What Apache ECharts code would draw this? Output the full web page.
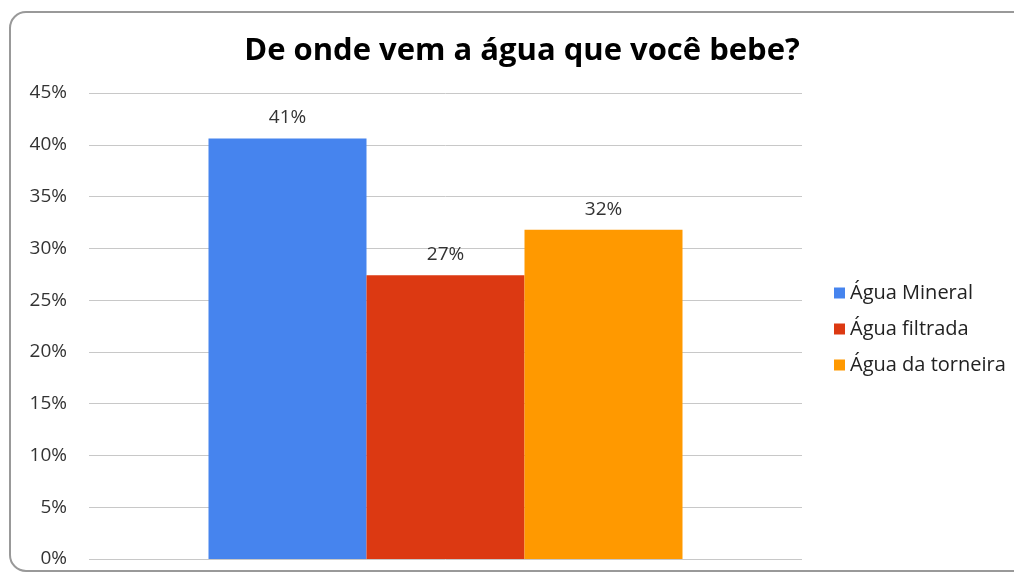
<!DOCTYPE html>
<html>
<head>
<meta charset="utf-8">
<script src="https://cdn.jsdelivr.net/npm/echarts@6/dist/echarts.min.js"></script>
<style>
  html, body { margin: 0; padding: 0; background: #fff; }
  #chart { width: 1014px; height: 573px; }
</style>
</head>
<body>
<div id="chart"></div>
<script>
var categories = ['Origem'];
var seriesNames = ['Água Mineral', 'Água filtrada', 'Água da torneira'];
var values = [40.6, 27.4, 31.8];
var colors = ['#4684ee', '#dc3912', '#ff9900'];
var yTicks = [0, 5, 10, 15, 20, 25, 30, 35, 40, 45];

var chart = echarts.init(document.getElementById('chart'));

var series = seriesNames.map(function (name, i) {
    return {
        name: name,
        type: 'bar',
        data: [values[i]],
        barWidth: 158,
        barGap: '0%',
        itemStyle: { color: colors[i] },
        label: {
            show: true,
            position: 'top',
            distance: 11,
            fontSize: 19,
            fontFamily: 'Open Sans',
            color: '#333',
            formatter: function (p) { return Math.round(p.value) + '%'; }
        }
    };
});

var option = {
    animation: false,
    backgroundColor: '#fff',
    title: {
        text: 'De onde vem a água que você bebe?',
        left: 517,
        textAlign: 'center',
        top: 31,
        textStyle: { fontSize: 31, fontWeight: 'bold', fontFamily: 'Open Sans', color: '#000' }
    },
    legend: {
        orient: 'vertical',
        left: 829,
        top: 278,
        itemWidth: 11,
        itemHeight: 11,
        itemGap: 16,
        icon: 'rect',
        textStyle: { fontSize: 20, fontFamily: 'Open Sans', color: '#222' },
        data: seriesNames
    },
    grid: { left: 89, right: 212, top: 93, bottom: 14 },
    xAxis: {
        type: 'category',
        data: categories,
        axisLine: { show: false },
        axisTick: { show: false },
        axisLabel: { show: false }
    },
    yAxis: {
        type: 'value',
        min: yTicks[0],
        max: yTicks[yTicks.length - 1],
        interval: 5,
        axisLine: { show: false },
        axisTick: { show: false },
        axisLabel: {
            margin: 22,
            fontSize: 19,
            fontFamily: 'Open Sans',
            color: '#333',
            formatter: '{value}%'
        },
        splitLine: { lineStyle: { color: '#c8c8c8', width: 1 } }
    },
    graphic: [{
        type: 'rect',
        silent: true,
        z: -1,
        shape: { x: 10, y: 12, width: 1020, height: 559, r: 16 },
        style: { fill: 'none', stroke: '#999', lineWidth: 2 }
    }],
    series: series
};

chart.setOption(option);
</script>
</body>
</html>
